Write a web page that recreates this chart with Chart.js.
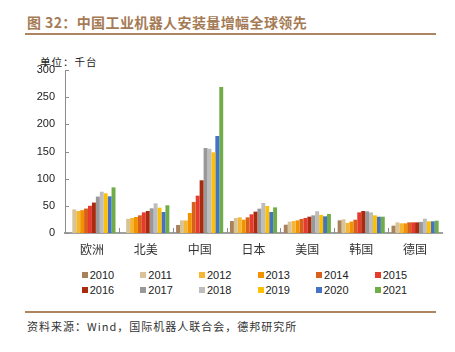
<!DOCTYPE html>
<html>
<head>
<meta charset="utf-8">
<script src="https://cdn.jsdelivr.net/npm/chart.js@4.4.1/dist/chart.umd.min.js"></script>
<style>
  body { margin: 0; background: #fff; width: 455px; height: 352px; position: relative; overflow: hidden; }
  .abs { position: absolute; white-space: nowrap; }
  #title { left: 27px; top: 12px; font: bold 14px "Noto Sans CJK SC", sans-serif; color: #a57b55; letter-spacing: 0.4px; }
  .rule { position: absolute; left: 25px; width: 411px; height: 2px; background: #ad8560; }
  #unit { left: 40px; top: 54px; font: 10.5px "Noto Sans CJK SC", sans-serif; color: #222; letter-spacing: 1px; }
  #source { left: 27px; top: 318px; font: 11px "Noto Sans CJK SC", sans-serif; color: #333; letter-spacing: 1px; }
  #chart { position: absolute; left: 0; top: 0; }
  .lg { position: absolute; font: 11px "Liberation Sans", Arial, sans-serif; color: #222; line-height: 12px; }
  .lg i { display: inline-block; width: 6px; height: 6px; margin-right: 2px; vertical-align: 1px; }
</style>
</head>
<body>
<div id="title" class="abs">图 32：中国工业机器人安装量增幅全球领先</div>
<div class="rule" style="top:33px"></div>
<div id="unit" class="abs">单位：千台</div>
<canvas id="chart" width="455" height="262"></canvas>
<div id="legend"></div>
<div class="rule" style="top:311px"></div>
<div id="source" class="abs">资料来源：Wind，国际机器人联合会，德邦研究所</div>
<script>
const regions = ['欧洲', '北美', '中国', '日本', '美国', '韩国', '德国'];
const years = ['2010', '2011', '2012', '2013', '2014', '2015', '2016', '2017', '2018', '2019', '2020', '2021'];

// 每年各地区安装量（千台）
const v2010 = [null, null, 14.7, 22, 15.3, 23.3, 13.5];
const v2011 = [43.5, 26, 23.3, 27.6, 20.9, 25.2, 19.6];
const v2012 = [40.5, 27.6, 23, 28.8, 22, 18.4, 17.8];
const v2013 = [42, 29.4, 36.8, 24.5, 23.3, 21, 17.8];
const v2014 = [45, 32.5, 57, 28.8, 25.8, 24.5, 19.6];
const v2015 = [50, 38, 68.7, 34.4, 27.6, 38, 19.6];
const v2016 = [56, 40.5, 97, 39.3, 30, 40.5, 19.6];
const v2017 = [67, 45.4, 156.4, 44.8, 32.5, 39.9, 20.4];
const v2018 = [76, 54.6, 155, 55.2, 40, 38, 26.4];
const v2019 = [73, 46.6, 148.5, 49.7, 33.3, 32.5, 21.5];
const v2020 = [67.5, 38.7, 178.5, 38.6, 30.7, 30, 21.5];
const v2021 = [84, 51, 268.7, 47.2, 34.9, 30, 22.7];
const series = [v2010, v2011, v2012, v2013, v2014, v2015, v2016, v2017, v2018, v2019, v2020, v2021];

const colors = ['#a8825a', '#d9c49a', '#f5b731', '#f39200', '#d95f1c', '#e53b2d',
                '#a82b10', '#999999', '#bdbdbd', '#ffc000', '#4472c4', '#70ad47'];

// 坐标轴内侧刻度
const innerTicks = {
  id: 'innerTicks',
  afterDraw(chart) {
    const ctx = chart.ctx;
    const x = chart.scales.x, y = chart.scales.y;
    ctx.save();
    ctx.strokeStyle = '#8c8c8c';
    ctx.lineWidth = 1;
    ctx.beginPath();
    y.ticks.forEach((t, i) => {
      const py = Math.round(y.getPixelForTick(i)) + 0.5;
      ctx.moveTo(y.right, py);
      ctx.lineTo(y.right + 4, py);
    });
    const half = (x.getPixelForValue(1) - x.getPixelForValue(0)) / 2;
    for (let i = 0; i < regions.length; i++) {
      const px = Math.round(x.getPixelForValue(i) - half) + 0.5;
      ctx.moveTo(px, x.top);
      ctx.lineTo(px, x.top - 5);
    }
    ctx.stroke();
    ctx.restore();
  }
};

const chart = new Chart(document.getElementById('chart'), {
  type: 'bar',
  data: {
    labels: regions,
    datasets: years.map((yr, i) => ({
      label: yr,
      data: series[i],
      backgroundColor: colors[i],
      borderWidth: 0,
      barPercentage: 1,
      categoryPercentage: 0.875
    }))
  },
  options: {
    responsive: false,
    animation: false,
    layout: { padding: { left: 0, right: 13, top: 70, bottom: 0 } },
    plugins: {
      legend: { display: false },
      tooltip: { enabled: false }
    },
    scales: {
      x: {
        grid: { display: false, drawTicks: false },
        border: { color: '#a0a0a0', width: 2 },
        ticks: { padding: 9, color: '#333', font: { family: '"Noto Sans CJK SC"', size: 12 } },
        afterFit(scale) { scale.height = 29; }
      },
      y: {
        min: 0,
        max: 300,
        grid: { display: false, drawTicks: false },
        border: { color: '#8c8c8c', width: 1 },
        ticks: { stepSize: 50, padding: 10, color: '#222', font: { family: '"Liberation Sans", Arial', size: 11 } },
        afterFit(scale) { scale.width = 65; }
      }
    }
  },
  plugins: [innerTicks]
});

// HTML 图例
const legendEl = document.getElementById('legend');
chart.options.plugins.legend.labels.generateLabels(chart).forEach((item, i) => {
  const d = document.createElement('div');
  d.className = 'lg';
  d.style.left = (81.7 + (i % 6) * 58.6) + 'px';
  d.style.top = (268.5 + Math.floor(i / 6) * 15) + 'px';
  d.innerHTML = '<i style="background:' + item.fillStyle + '"></i>' + item.text;
  legendEl.appendChild(d);
});
</script>
</body>
</html>
